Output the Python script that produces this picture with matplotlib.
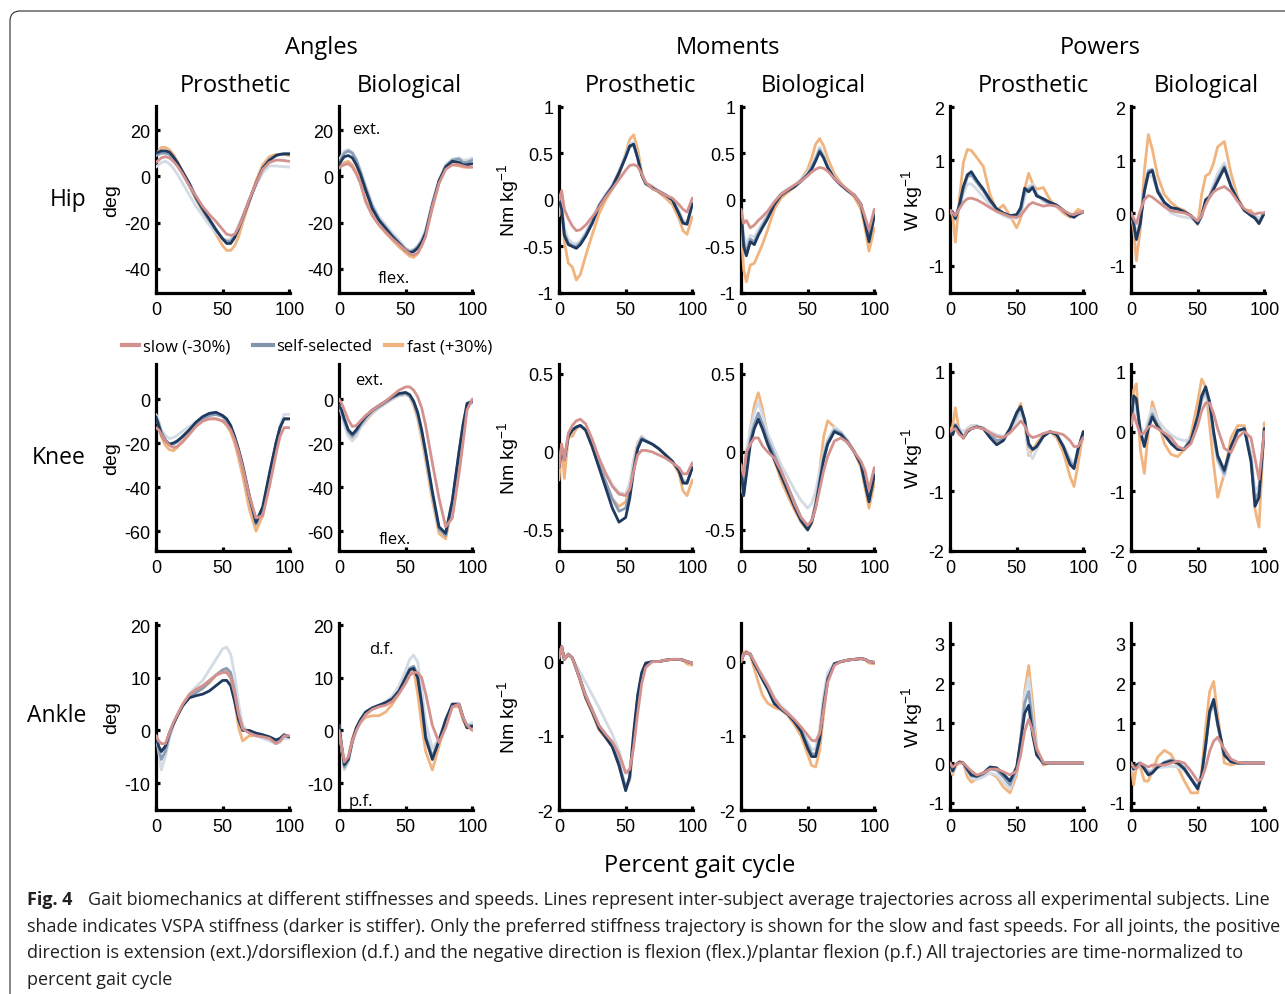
import matplotlib
matplotlib.use('Agg')
import matplotlib.pyplot as plt
from matplotlib import font_manager as fm
from matplotlib.patches import FancyBboxPatch
from matplotlib.lines import Line2D
from matplotlib.ticker import FuncFormatter

def pick(cands):
    for c in cands:
        try:
            fm.findfont(fm.FontProperties(family=c), fallback_to_default=False)
            return c
        except Exception:
            pass
    return 'DejaVu Sans'

SANS = pick(['Liberation Sans', 'Arial'])
HUM = pick(['Open Sans', 'Noto Sans'])

plt.rcParams['axes.unicode_minus'] = False
plt.rcParams['mathtext.fontset'] = 'custom'
plt.rcParams['mathtext.rm'] = SANS
plt.rcParams['mathtext.it'] = SANS
plt.rcParams['mathtext.default'] = 'regular'

# ---------------- data (percent gait cycle) ----------------
GAIT_PCT = [0, 2, 4, 7, 10, 13, 16, 20, 25, 30, 35, 40, 45, 50, 53, 56, 59, 62, 65, 70, 75, 80, 85, 90, 93, 96, 100]

HIP_ANG_PRO = dict(
    slow=[6,7,8,8.5,8,6.5,4.5,1,-4,-8.5,-13,-16.5,-19.5,-23,-25,-25.5,-25,-22,-18,-10,-3,3,6,7,7,6.8,6.5],
    fast=[9,11,12.5,12.5,11.5,9.5,6.5,2,-4,-10,-15,-20,-25,-30,-32,-32,-30,-26,-20,-11,-2,5,8.5,9.5,9.5,9.5,9],
    light=[4,5,6,6.5,5.5,3.5,1,-3,-8,-13,-17,-21,-24.5,-27,-27.5,-27,-25,-21,-17,-10,-4,1.5,4.5,4.5,4.3,4.2,4],
    mid=[9,9.5,10,10,9.5,7.5,5,1,-4,-9.5,-14.5,-19,-23.5,-27,-28,-28,-26,-22,-18,-10,-3,3.5,7,9,9.5,9.8,10],
    dark=[10,10.5,11,11,10.5,8.5,6,2,-3,-9,-14,-18.5,-23,-27,-29,-29,-26.5,-22.5,-18,-10.5,-3,3.5,7,9,9.5,9.7,9.6])
HIP_ANG_BIO = dict(
    slow=[3.5,4.5,5,5.5,4,1,-3,-11,-17,-21,-24,-27,-29.5,-32,-33.5,-34,-33,-30,-26,-13,-3,3,5,5,4.5,4,4],
    fast=[4,5,6,6.5,5,2,-2,-10,-16.5,-21,-24.5,-27.5,-30.5,-33,-34.5,-35,-33.5,-30,-25,-14,-3,4,5,4.5,4,4,4],
    light=[7,9,11,11.5,10.5,7.5,3,-4,-12,-17.5,-21,-24.5,-27.5,-31,-32,-31.5,-30,-27,-23,-11,-1.5,5,7.5,8,7,7,8],
    mid=[6,8,10,11,10,7,2,-5,-13,-18.5,-22,-25.5,-28.5,-31.5,-32.5,-32,-30.5,-28,-24,-12,-2,4.5,7,7.5,6,6,7],
    dark=[5,7,8.5,9,8,5,1,-6,-14,-19,-22.5,-26,-29,-32,-33,-32.5,-31,-28.5,-24.5,-12.5,-2,4,6.5,6,5,5,5.5])
HIP_MOM_PRO = dict(
    slow=[0,0.1,-0.1,-0.2,-0.28,-0.33,-0.32,-0.27,-0.18,-0.08,0.03,0.12,0.22,0.32,0.37,0.38,0.36,0.28,0.19,0.12,0.09,0.05,0.02,-0.05,-0.1,-0.13,0.02],
    fast=[-0.17,0.05,-0.45,-0.68,-0.72,-0.86,-0.8,-0.6,-0.37,-0.15,0,0.12,0.27,0.5,0.65,0.7,0.55,0.3,0.18,0.15,0.08,0.02,-0.05,-0.2,-0.33,-0.37,-0.18],
    light=[0,-0.08,-0.3,-0.42,-0.46,-0.47,-0.44,-0.35,-0.21,-0.05,0.06,0.16,0.31,0.49,0.6,0.62,0.47,0.28,0.18,0.14,0.1,0.06,0.01,-0.12,-0.22,-0.24,-0.04],
    mid=[0,-0.1,-0.36,-0.46,-0.49,-0.5,-0.46,-0.37,-0.23,-0.06,0.05,0.15,0.3,0.47,0.57,0.59,0.45,0.27,0.17,0.13,0.09,0.05,0,-0.14,-0.24,-0.26,-0.05],
    dark=[0,-0.1,-0.38,-0.48,-0.5,-0.52,-0.48,-0.39,-0.25,-0.07,0.04,0.14,0.29,0.46,0.58,0.6,0.45,0.27,0.18,0.13,0.09,0.05,0,-0.15,-0.25,-0.26,-0.04])
HIP_MOM_BIO = dict(
    slow=[-0.1,-0.25,-0.22,-0.3,-0.27,-0.22,-0.18,-0.12,-0.02,0.06,0.11,0.16,0.2,0.26,0.3,0.33,0.35,0.34,0.31,0.23,0.17,0.11,0.05,-0.05,-0.18,-0.32,-0.1],
    fast=[-0.3,-0.75,-0.88,-0.7,-0.68,-0.58,-0.48,-0.32,-0.1,0.02,0.08,0.14,0.22,0.33,0.45,0.6,0.66,0.58,0.45,0.28,0.18,0.1,0.03,-0.1,-0.3,-0.55,-0.3],
    light=[-0.1,-0.38,-0.47,-0.38,-0.4,-0.32,-0.25,-0.15,-0.02,0.07,0.12,0.16,0.22,0.3,0.37,0.46,0.57,0.48,0.37,0.24,0.17,0.11,0.06,-0.04,-0.2,-0.38,-0.13],
    mid=[-0.1,-0.45,-0.55,-0.42,-0.45,-0.36,-0.28,-0.18,-0.04,0.06,0.11,0.15,0.21,0.28,0.35,0.44,0.54,0.46,0.35,0.23,0.16,0.1,0.05,-0.05,-0.22,-0.42,-0.15],
    dark=[-0.1,-0.5,-0.6,-0.45,-0.48,-0.38,-0.3,-0.2,-0.05,0.05,0.1,0.14,0.2,0.27,0.33,0.42,0.52,0.45,0.35,0.23,0.16,0.1,0.05,-0.05,-0.25,-0.45,-0.17])
HIP_POW_PRO = dict(
    slow=[0.05,0.0,-0.05,0.08,0.2,0.27,0.28,0.25,0.18,0.1,0.03,-0.02,-0.07,-0.08,-0.05,0.05,0.15,0.2,0.17,0.13,0.15,0.13,0.05,-0.02,-0.03,0.0,0.02],
    fast=[0.05,-0.05,-0.55,0.25,0.95,1.2,1.18,1.05,0.88,0.35,0.05,0.15,-0.05,-0.28,-0.1,0.45,0.75,0.55,0.45,0.48,0.25,0.12,0.0,-0.08,-0.02,0.07,0.02],
    light=[0.05,0.02,-0.1,0.1,0.35,0.55,0.55,0.45,0.3,0.15,0.03,-0.05,-0.1,-0.1,0.0,0.3,0.5,0.55,0.35,0.22,0.15,0.12,0.05,-0.03,-0.05,0.0,0.02],
    mid=[0.05,0.02,-0.12,0.12,0.45,0.68,0.72,0.58,0.42,0.22,0.07,0.0,-0.06,-0.05,0.05,0.4,0.45,0.5,0.35,0.25,0.18,0.14,0.05,-0.05,-0.08,-0.03,0.02],
    dark=[0.05,0.02,-0.1,0.15,0.5,0.72,0.78,0.62,0.45,0.25,0.08,0.0,-0.05,-0.03,0.1,0.47,0.4,0.48,0.32,0.27,0.2,0.15,0.05,-0.05,-0.08,-0.02,0.02])
HIP_POW_BIO = dict(
    slow=[0,-0.1,-0.2,0.05,0.25,0.33,0.3,0.22,0.12,0.04,0.02,0.0,-0.05,-0.15,-0.05,0.15,0.3,0.4,0.45,0.5,0.4,0.22,0.08,0,-0.02,0,0],
    fast=[0,-0.3,-0.9,-0.3,0.8,1.48,1.2,0.7,0.35,0.2,0.1,0.05,-0.05,-0.22,0.35,0.7,0.75,0.95,1.25,1.35,0.75,0.3,0.05,0.05,-0.1,-0.2,0],
    light=[0,-0.15,-0.4,-0.1,0.4,0.7,0.7,0.4,0.15,0.0,-0.05,-0.08,-0.1,-0.2,-0.05,0.22,0.35,0.55,0.75,0.95,0.55,0.25,0.05,0,-0.05,-0.1,0],
    mid=[0,-0.2,-0.5,-0.15,0.45,0.8,0.82,0.45,0.2,0.1,0.07,0.02,-0.05,-0.18,-0.05,0.25,0.32,0.48,0.65,0.88,0.5,0.25,0.05,-0.03,-0.08,-0.18,0],
    dark=[0,-0.2,-0.5,-0.2,0.4,0.75,0.8,0.4,0.2,0.1,0.08,0.02,-0.05,-0.2,-0.05,0.25,0.3,0.45,0.6,0.85,0.5,0.25,0.05,-0.05,-0.1,-0.2,0])

KNEE_ANG_PRO = dict(
    slow=[-13,-14,-16,-19,-21,-22,-21.5,-19.5,-16,-12.5,-10,-9,-9,-10,-11.5,-14,-18.5,-24,-31,-44,-54,-53,-40,-25,-17,-13,-13],
    fast=[-8,-12,-17,-21,-23,-23.5,-22,-19,-15.5,-12,-10,-9,-9,-10,-12,-15,-20,-27,-35,-50,-60,-53,-36,-20,-13,-9,-9],
    light=[-7,-10,-14,-16.5,-18,-17.5,-16.5,-14.5,-12.5,-10.5,-9,-7.5,-6.5,-7.5,-9.5,-12.5,-17.5,-23.5,-30,-43,-55,-50,-36,-21,-12,-7,-7],
    mid=[-8.5,-11,-15,-18.5,-20.5,-20.5,-19.5,-17,-14,-11,-9,-7.5,-7,-8,-10,-13,-18,-24,-31,-45,-57,-50,-35,-20,-13,-9,-9],
    dark=[-8,-12,-16,-19,-20.5,-20,-19,-17,-14,-10.5,-8,-6.5,-6,-7.5,-9,-12,-17,-23,-30,-44,-56,-49,-34,-20,-13,-9,-9])
KNEE_ANG_BIO = dict(
    slow=[0,-2,-5,-9.5,-12.5,-12,-10,-7.5,-5,-3,-1,1.5,4,5.5,5.5,4,1,-4,-12,-29,-45,-58,-54,-34,-20,-5,0],
    fast=[-3,-6,-11,-16,-18,-16,-13,-10,-6.5,-4,-2,0,1.5,2,1,-3,-9,-18,-28,-46,-61,-63.5,-48,-25,-12,-3,-1],
    light=[-3,-7,-12,-17,-19,-17,-13,-9.5,-6,-4,-2,0,1.5,2,1,-2,-7.5,-16,-26,-44,-59,-61,-46,-24,-11,-3,-2],
    mid=[-3,-6,-10,-15,-17,-15,-12,-8.5,-5.5,-3.5,-1.5,0.5,2,2.5,1.5,-1.5,-7,-15,-25,-43,-59,-62,-47,-25,-12,-3,-1],
    dark=[-3,-5,-9,-14,-16,-14,-11,-8,-5,-3,-1,1,2.5,3,2,-1,-6,-14,-24,-42,-58,-61,-46,-24,-12,-2,-1])
KNEE_MOM_PRO = dict(
    slow=[-0.1,0.05,-0.05,0.12,0.17,0.2,0.21,0.18,0.08,-0.04,-0.14,-0.22,-0.27,-0.28,-0.24,-0.12,-0.02,0.01,0.01,0.0,-0.02,-0.04,-0.07,-0.1,-0.14,-0.14,-0.07],
    fast=[-0.18,0.05,-0.17,0.1,0.1,0.15,0.17,0.14,0.03,-0.09,-0.2,-0.3,-0.35,-0.32,-0.22,-0.05,0.06,0.1,0.07,0.05,0.02,-0.02,-0.06,-0.14,-0.25,-0.28,-0.18],
    light=[-0.1,0.02,-0.05,0.1,0.14,0.16,0.17,0.15,0.06,-0.04,-0.13,-0.21,-0.26,-0.27,-0.2,-0.06,0.05,0.1,0.08,0.05,0.02,-0.02,-0.06,-0.12,-0.18,-0.19,-0.1],
    mid=[-0.1,0.02,-0.05,0.1,0.14,0.16,0.17,0.14,0.04,-0.08,-0.19,-0.3,-0.38,-0.36,-0.26,-0.1,0.03,0.09,0.07,0.05,0.02,-0.02,-0.06,-0.12,-0.19,-0.2,-0.1],
    dark=[-0.1,0.02,-0.05,0.1,0.14,0.16,0.17,0.14,0.03,-0.1,-0.23,-0.36,-0.45,-0.42,-0.3,-0.12,0.02,0.08,0.07,0.05,0.02,-0.02,-0.06,-0.12,-0.2,-0.2,-0.1])
KNEE_MOM_BIO = dict(
    slow=[-0.08,-0.15,0.0,0.05,0.09,0.09,0.04,0.0,-0.04,-0.12,-0.22,-0.33,-0.42,-0.47,-0.44,-0.36,-0.24,-0.12,-0.03,0.07,0.09,0.06,0.0,-0.06,-0.12,-0.24,-0.1],
    fast=[-0.22,-0.28,-0.1,0.15,0.3,0.38,0.28,0.1,-0.05,-0.18,-0.28,-0.37,-0.45,-0.5,-0.46,-0.32,-0.12,0.1,0.2,0.16,0.12,0.07,0.0,-0.1,-0.23,-0.36,-0.2],
    light=[-0.12,-0.2,0.0,0.15,0.25,0.32,0.24,0.12,0.02,-0.08,-0.16,-0.24,-0.31,-0.36,-0.33,-0.25,-0.12,0.0,0.08,0.16,0.13,0.07,0.0,-0.08,-0.17,-0.24,-0.12],
    mid=[-0.12,-0.26,-0.1,0.08,0.18,0.25,0.18,0.08,-0.02,-0.12,-0.22,-0.32,-0.42,-0.48,-0.44,-0.33,-0.18,-0.03,0.06,0.14,0.12,0.07,0.0,-0.08,-0.2,-0.3,-0.14],
    dark=[-0.1,-0.28,-0.15,0.05,0.15,0.21,0.15,0.05,-0.05,-0.15,-0.25,-0.35,-0.44,-0.5,-0.45,-0.35,-0.2,-0.05,0.05,0.13,0.11,0.06,0.0,-0.08,-0.2,-0.32,-0.15])
KNEE_POW_PRO = dict(
    slow=[0,0.03,0.05,-0.05,-0.1,0.02,0.05,0.07,0.05,-0.02,-0.08,-0.1,-0.02,0.1,0.18,0.1,-0.05,-0.1,-0.08,-0.03,0.0,-0.02,-0.05,-0.15,-0.25,-0.25,-0.1],
    fast=[0,0.1,0.4,0.0,-0.12,0.05,0.1,0.1,0.05,-0.08,-0.18,-0.12,0.05,0.3,0.47,0.15,-0.4,-0.3,-0.2,-0.05,0.0,-0.1,-0.35,-0.75,-0.92,-0.55,0.0],
    light=[0,-0.03,0.08,0.05,0.0,0.05,0.1,0.1,0.06,0.0,-0.05,-0.08,0.0,0.2,0.3,0.15,-0.35,-0.45,-0.3,-0.08,0.0,-0.05,-0.22,-0.45,-0.55,-0.3,0],
    mid=[0,-0.05,0.12,0.02,-0.1,0.0,0.05,0.08,0.06,-0.05,-0.15,-0.12,0.05,0.28,0.4,0.2,-0.25,-0.3,-0.25,-0.08,0.0,-0.05,-0.25,-0.5,-0.6,-0.3,0],
    dark=[0,-0.05,0.1,0.0,-0.1,0.0,0.05,0.08,0.05,-0.1,-0.22,-0.15,0.05,0.32,0.42,0.2,-0.2,-0.3,-0.25,-0.08,0.0,-0.05,-0.25,-0.55,-0.62,-0.3,0.0])
KNEE_POW_BIO = dict(
    slow=[0.1,0.3,0.15,-0.05,-0.02,0.08,0.1,0.05,-0.02,-0.1,-0.25,-0.3,-0.2,0.1,0.35,0.48,0.48,0.3,0.05,-0.28,-0.35,-0.1,0.0,-0.1,-0.45,-0.8,0.0],
    fast=[0.15,0.7,0.8,-0.3,-0.7,0.0,0.5,0.2,-0.2,-0.38,-0.42,-0.3,-0.05,0.5,0.88,0.75,0.1,-0.55,-1.1,-0.7,-0.1,0.1,0.1,-0.4,-1.3,-1.6,0.15],
    light=[0.15,0.4,0.35,0.1,-0.05,0.2,0.4,0.2,0.05,-0.05,-0.12,-0.15,-0.12,0.2,0.5,0.65,0.4,-0.1,-0.5,-0.75,-0.3,0.0,0.05,-0.4,-1.0,-0.9,0.05],
    mid=[0.15,0.55,0.5,0.0,-0.2,0.1,0.3,0.1,-0.05,-0.18,-0.28,-0.28,-0.12,0.25,0.55,0.7,0.45,-0.05,-0.45,-0.7,-0.28,0.0,0.05,-0.45,-1.15,-1.0,0.05],
    dark=[0.15,0.6,0.55,0.0,-0.25,0.05,0.25,0.08,-0.05,-0.2,-0.3,-0.3,-0.15,0.25,0.6,0.75,0.5,0.0,-0.4,-0.65,-0.25,0.02,0.05,-0.5,-1.25,-1.1,0.05])

ANK_ANG_PRO = dict(
    slow=[-1,-2,-2.5,-2.5,-0.5,1.5,3,5,6.8,7.8,8.5,9.5,10.5,11,11,10,7,3,0.3,-0.5,-1,-1.2,-1.5,-2.5,-2,-1,-1],
    fast=[-1,-3,-4,-3,-0.5,1.2,2.8,4.7,6.3,7.2,8,9,10.5,11.5,11.5,10,5.5,0.5,-2,-1,-1,-1.3,-1.8,-2.5,-2.2,-1,-1.2],
    light=[-1,-4,-7.5,-5,-1.5,1,3,5,7,8.3,9.5,11.5,13.5,15.5,15.8,14.5,10.5,5,1,-0.5,-1,-1.5,-2,-2.5,-2.2,-1.5,-1.5],
    mid=[-1,-3.5,-5.5,-4,-1,1.2,2.8,4.7,6.4,7.2,8,9.3,10.5,11.5,11.8,11,7.5,3,0.3,-0.2,-0.8,-1,-1.5,-2,-1.8,-1,-1.3],
    dark=[-1,-3,-4,-3,-0.5,1.2,2.8,4.7,6.2,6.6,6.9,7.5,8.5,9.5,9.5,8.5,5.5,2,0,0,-0.5,-0.8,-1.2,-1.8,-1.5,-0.8,-1.2])
ANK_ANG_BIO = dict(
    slow=[0,-3,-6,-5,-2,0,1.5,3,4,4.5,4.8,5.5,7,9,10.5,11,11,10,7,1,-2.3,0.5,4.5,5,2.5,1,0],
    fast=[0,-3.5,-7,-5,-1.5,0.5,1.5,2.5,2.8,2.8,3.5,5,7,9,10.5,11.5,7,1,-4,-7.5,-3,1.5,4.5,4.5,2,0.5,0.5],
    light=[1,-3.5,-7.5,-6,-2.5,0,1.5,3,4,4.5,5.5,6.5,8.5,11.5,13.5,14.3,13,8,1.5,-3.5,-1.5,2,4.5,5,2.5,1,1.5],
    mid=[1,-3,-7,-5.5,-2,0.5,2,3.5,4.2,4.7,5.2,6,7.5,10.2,11.8,12.2,10.5,5.5,-1,-5,-1.8,2,5,5,2.5,0.8,1],
    dark=[1,-3,-6.5,-5.5,-2,0.5,2,3.5,4.3,4.8,5.3,6,7.5,10,11.5,11.8,10,5,-1.5,-5.5,-2,2,5,5,2.5,0.5,0.8])
ANK_MOM_PRO = dict(
    slow=[0.05,0.2,0.03,0.1,0.05,-0.1,-0.25,-0.46,-0.66,-0.86,-0.98,-1.08,-1.25,-1.5,-1.45,-1.15,-0.7,-0.3,-0.08,0,0,0.02,0.03,0.03,0.02,0,-0.02],
    fast=[0.05,0.2,0.03,0.1,0.05,-0.1,-0.27,-0.5,-0.7,-0.92,-1.03,-1.15,-1.4,-1.72,-1.6,-1.05,-0.5,-0.18,-0.03,0,0,0.02,0.03,0.03,0.02,-0.03,-0.05],
    light=[0.05,0.2,0.03,0.1,0.05,-0.05,-0.15,-0.28,-0.45,-0.62,-0.8,-0.98,-1.2,-1.5,-1.5,-1.1,-0.55,-0.2,-0.04,0,0,0.02,0.03,0.03,0.02,0,-0.02],
    mid=[0.05,0.2,0.03,0.1,0.05,-0.1,-0.24,-0.45,-0.65,-0.86,-0.98,-1.12,-1.36,-1.7,-1.58,-1.05,-0.5,-0.18,-0.03,0,0,0.02,0.03,0.03,0.02,0,-0.02],
    dark=[0.05,0.2,0.03,0.1,0.05,-0.1,-0.25,-0.48,-0.68,-0.9,-1.02,-1.15,-1.4,-1.74,-1.55,-0.95,-0.45,-0.15,-0.02,0,0,0.02,0.03,0.03,0.02,0,-0.02])
ANK_MOM_BIO = dict(
    slow=[0,0.1,0.12,0.1,0.0,-0.1,-0.2,-0.32,-0.5,-0.62,-0.7,-0.78,-0.88,-0.99,-1.06,-1.07,-0.97,-0.65,-0.28,-0.05,0,0.02,0.03,0.04,0.03,0,-0.01],
    fast=[0,0.12,0.14,0.08,-0.1,-0.28,-0.45,-0.56,-0.62,-0.65,-0.72,-0.85,-1.0,-1.25,-1.4,-1.42,-1.2,-0.7,-0.25,-0.04,0,0.02,0.03,0.04,0.03,-0.02,-0.03],
    light=[0,0.1,0.12,0.1,0.0,-0.1,-0.18,-0.3,-0.48,-0.6,-0.68,-0.78,-0.9,-1.08,-1.18,-1.18,-0.9,-0.45,-0.15,-0.02,0,0.02,0.03,0.04,0.03,0,-0.01],
    mid=[0,0.1,0.12,0.1,-0.02,-0.12,-0.22,-0.34,-0.53,-0.62,-0.7,-0.8,-0.92,-1.12,-1.24,-1.25,-1.0,-0.55,-0.22,-0.03,0,0.02,0.03,0.04,0.03,0,-0.01],
    dark=[0,0.1,0.12,0.1,-0.03,-0.13,-0.24,-0.37,-0.57,-0.64,-0.71,-0.81,-0.94,-1.17,-1.28,-1.28,-1.05,-0.6,-0.25,-0.03,0,0.02,0.03,0.04,0.03,0,-0.01])
ANK_POW_PRO = dict(
    slow=[0,-0.1,-0.05,0,0,-0.1,-0.2,-0.3,-0.25,-0.15,-0.15,-0.22,-0.3,-0.2,0.2,0.8,1.1,0.8,0.35,0.02,0,0,0,0,0,0,0],
    fast=[0,-0.3,-0.1,0.05,0,-0.35,-0.48,-0.4,-0.28,-0.25,-0.35,-0.6,-0.75,-0.3,0.5,1.8,2.45,1.5,0.4,-0.05,0,0,0,0,0,0,0],
    light=[0,-0.25,-0.05,0.02,0,-0.2,-0.38,-0.42,-0.35,-0.25,-0.3,-0.48,-0.65,-0.2,0.6,1.7,2.15,1.2,0.3,0.0,0,0,0,0,0,0,0],
    mid=[0,-0.2,-0.05,0.02,0,-0.18,-0.32,-0.35,-0.28,-0.15,-0.18,-0.35,-0.55,-0.15,0.6,1.5,1.8,0.95,0.25,0.0,0,0,0,0,0,0,0],
    dark=[0,-0.2,-0.05,0.02,0,-0.15,-0.3,-0.33,-0.25,-0.1,-0.12,-0.28,-0.45,-0.1,0.55,1.25,1.45,0.7,0.2,0.0,0,0,0,0,0,0,0])
ANK_POW_BIO = dict(
    slow=[0,-0.1,-0.15,0,-0.05,-0.1,-0.05,-0.05,-0.05,0,0.05,0,-0.2,-0.45,-0.4,-0.1,0.3,0.55,0.65,0.35,0.1,0.02,0,0,0,0,0],
    fast=[0,-0.55,-0.1,-0.1,-0.45,-0.45,-0.2,0.15,0.32,0.22,-0.1,-0.45,-0.75,-0.75,-0.2,0.9,1.8,2.05,1.2,0.0,-0.05,0,0,0,0,0,0],
    light=[0,-0.2,-0.05,-0.05,-0.12,-0.2,-0.18,-0.12,-0.1,-0.08,-0.1,-0.2,-0.4,-0.6,-0.35,0.4,1.2,1.5,0.95,0.2,0.03,0,0,0,0,0,0],
    mid=[0,-0.15,-0.05,0,-0.12,-0.25,-0.22,-0.1,0.02,0.08,0.03,-0.12,-0.38,-0.62,-0.3,0.45,1.25,1.55,0.95,0.2,0.03,0,0,0,0,0,0],
    dark=[0,-0.15,-0.05,0,-0.15,-0.3,-0.25,-0.1,0.0,0.05,0.0,-0.15,-0.4,-0.65,-0.3,0.45,1.3,1.6,1.0,0.2,0.03,0,0,0,0,0,0])

JOINTS = ['Hip', 'Knee', 'Ankle']
GROUPS = ['Angles', 'Moments', 'Powers']
SIDES = ['Prosthetic', 'Biological']
SPEED_LABELS = ['slow (-30%)', 'self-selected', 'fast (+30%)']

PANELS = [
    [HIP_ANG_PRO, HIP_ANG_BIO, HIP_MOM_PRO, HIP_MOM_BIO, HIP_POW_PRO, HIP_POW_BIO],
    [KNEE_ANG_PRO, KNEE_ANG_BIO, KNEE_MOM_PRO, KNEE_MOM_BIO, KNEE_POW_PRO, KNEE_POW_BIO],
    [ANK_ANG_PRO, ANK_ANG_BIO, ANK_MOM_PRO, ANK_MOM_BIO, ANK_POW_PRO, ANK_POW_BIO],
]
for row in PANELS:
    for p in row:
        for k, v in p.items():
            assert len(v) == len(GAIT_PCT), (k, len(v))

# axis settings per (row, group)
YLIMS = [[(-50.4, 30.4), (-1.0, 1.01), (-1.51, 2.02)],
         [(-69, 15.9), (-0.635, 0.564), (-1.98, 1.133)],
         [(-15.1, 20.4), (-2.0, 0.52), (-1.18, 3.52)]]
YTICKS = [[[-40, -20, 0, 20], [-1, -0.5, 0, 0.5, 1], [-1, 0, 1, 2]],
          [[-60, -40, -20, 0], [-0.5, 0, 0.5], [-2, -1, 0, 1]],
          [[-10, 0, 10, 20], [-2, -1, 0], [-1, 0, 1, 2, 3]]]
YLABELS = ['deg', 'Nm kg$^{-1}$', 'W kg$^{-1}$']

# ---------------- styling ----------------
COLORS = dict(fast='#f1b47e', light='#d3dbe5', mid='#8b9db6', dark='#1f3a5f', slow='#d4928f')
ORDER = ['fast', 'light', 'mid', 'dark', 'slow']
LEG_COLORS = ['#d4928f', '#8194ad', '#f1b47e']

W, H = 1285, 995
fig = plt.figure(figsize=(W / 100, H / 100), dpi=100)

def fx(px):
    return px / W

def fy(py):
    return 1 - py / H

COL_LEFT = [156, 339, 559, 741, 950, 1131]
ROW_TOP = [107, 365, 624]
AX_W, AX_H = 134, 187

fmt = FuncFormatter(lambda v, p: ('%g' % v))

for r in range(3):
    for c in range(6):
        ax = fig.add_axes([fx(COL_LEFT[c]), fy(ROW_TOP[r] + AX_H), AX_W / W, AX_H / H])
        data = PANELS[r][c]
        for k in ORDER:
            ax.plot(GAIT_PCT, data[k], color=COLORS[k], lw=2.0, solid_capstyle='round',
                    solid_joinstyle='round', zorder=3)
        g = c // 2
        ax.set_xlim(0, 100.5)
        ax.set_ylim(*YLIMS[r][g])
        ax.set_xticks([0, 50, 100])
        ax.set_yticks(YTICKS[r][g])
        ax.yaxis.set_major_formatter(fmt)
        for s in ['top', 'right']:
            ax.spines[s].set_visible(False)
        for s in ['left', 'bottom']:
            ax.spines[s].set_linewidth(2.3)
        ax.tick_params(direction='in', length=3, width=2.3, labelsize=13)
        ax.tick_params(axis='y', pad=4)
        ax.tick_params(axis='x', pad=6)
        for lab in ax.get_xticklabels() + ax.get_yticklabels():
            lab.set_family(SANS)
        ax.patch.set_alpha(0)
        if c % 2 == 0:
            xl = [112, 508, 912][g]
            fig.text(fx(xl), fy(ROW_TOP[r] + AX_H / 2), YLABELS[g], rotation=90,
                     ha='center', va='center', fontsize=14, family=SANS)

# row labels
for r, name in enumerate(JOINTS):
    fig.text(fx(86), fy(ROW_TOP[r] + AX_H / 2 - 1), name, ha='right', va='center',
             fontsize=16.5, family=HUM)

# group and side titles
for g, name in enumerate(GROUPS):
    fig.text(fx([321, 728, 1100][g]), fy(48), name, ha='center', va='center', fontsize=17, family=HUM)
for c in range(6):
    fig.text(fx([235, 409, 640, 813, 1033, 1206][c]), fy(86), SIDES[c % 2], ha='center',
             va='center', fontsize=17, family=HUM)

# annotations
ANNOT = [('ext.', 366, 130), ('flex.', 394, 279), ('ext.', 369, 381), ('flex.', 395, 540),
         ('d.f.', 381, 650), ('p.f.', 361, 802)]
for txt, x, y in ANNOT:
    fig.text(fx(x), fy(y), txt, ha='center', va='center', fontsize=12, family=HUM)

# legend
LEG_LINES = [(122, 139), (253, 273), (385, 402)]
LEG_TEXT_X = [143, 276, 407]
for (x0, x1), tx, col, lab in zip(LEG_LINES, LEG_TEXT_X, LEG_COLORS, SPEED_LABELS):
    fig.add_artist(Line2D([fx(x0), fx(x1)], [fy(346), fy(346)], color=col, lw=3,
                          transform=fig.transFigure))
    fig.text(fx(tx), fy(347), lab, ha='left', va='center', fontsize=12, family=HUM)

fig.text(fx(700), fy(866), 'Percent gait cycle', ha='center', va='center', fontsize=17, family=HUM)

# caption
CAPTION = [
    'Gait biomechanics at different stiffnesses and speeds. Lines represent inter-subject average trajectories across all experimental subjects. Line',
    'shade indicates VSPA stiffness (darker is stiffer). Only the preferred stiffness trajectory is shown for the slow and fast speeds. For all joints, the positive',
    'direction is extension (ext.)/dorsiflexion (d.f.) and the negative direction is flexion (flex.)/plantar flexion (p.f.) All trajectories are time-normalized to',
    'percent gait cycle',
]
CAP_X = [88, 27, 27, 27]
CAP_Y = [900, 927, 953, 980]
fs0 = 13
t_fig = fig.text(fx(27), fy(CAP_Y[0]), 'Fig. 4', ha='left', va='center', fontsize=fs0,
                 family=HUM, weight='bold', color='#231f20')
caps = [fig.text(fx(x), fy(y), s, ha='left', va='center', fontsize=fs0, family=HUM,
                 color='#231f20') for s, x, y in zip(CAPTION, CAP_X, CAP_Y)]
fig.canvas.draw()
scale = min((1275 - CAP_X[i]) / caps[i].get_window_extent().width for i in range(3))
fs = fs0 * scale
for t in caps + [t_fig]:
    t.set_fontsize(fs)

# border
box = FancyBboxPatch((0.10, -0.3), 13.3, 9.83 + 0.3, boxstyle='round,pad=0,rounding_size=0.1',
                     transform=fig.dpi_scale_trans, facecolor='none', edgecolor='#2a2a2a', lw=0.8)
fig.add_artist(box)

fig.savefig('out.png', dpi=100)
